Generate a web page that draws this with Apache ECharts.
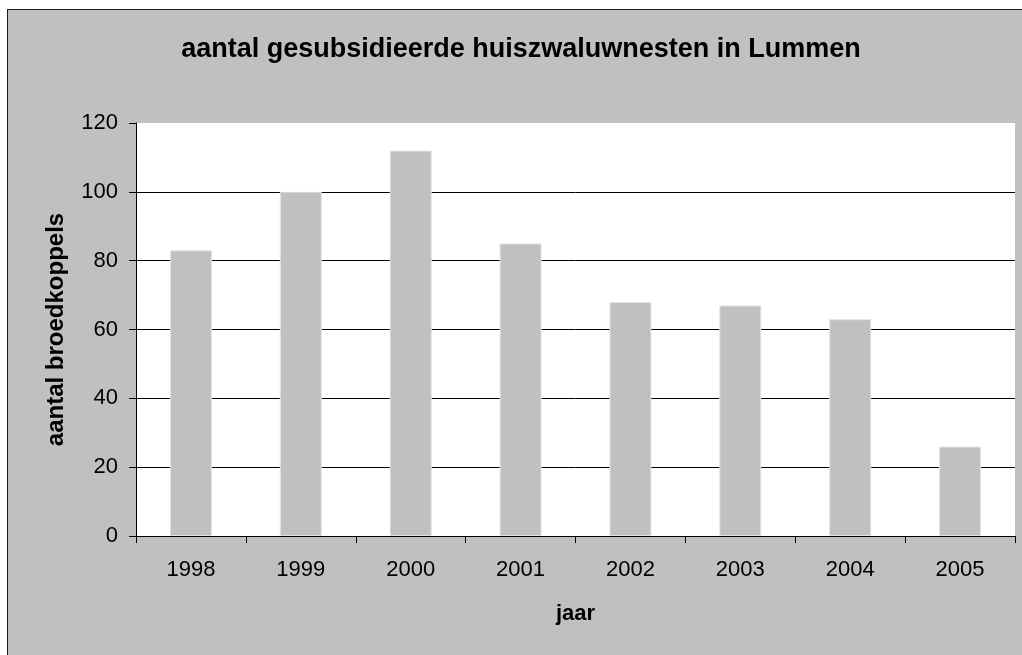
<!DOCTYPE html>
<html>
<head>
<meta charset="utf-8">
<script src="https://cdn.jsdelivr.net/npm/echarts@6/dist/echarts.min.js"></script>
<style>
    html, body { margin: 0; padding: 0; background: #fff; overflow: hidden; }
    #panel { position: absolute; left: 7px; top: 9px; width: 1040px; height: 670px;
             background: #c0c0c0; border: 1px solid #1a1a1a; }
    #chart { position: absolute; left: 0; top: 0; width: 1022px; height: 655px; }
</style>
</head>
<body>
<div id="panel"></div>
<div id="chart"></div>
<script type="text/javascript">
    // jaren en aantal broedkoppels
    var jaren = ['1998', '1999', '2000', '2001', '2002', '2003', '2004', '2005'];
    var broedkoppels = [83, 100, 112, 85, 68, 67, 63, 26];

    var FONT = '"Liberation Sans", Arial, sans-serif';

    var myChart = echarts.init(document.getElementById('chart'), null, { renderer: 'canvas' });

    var option = {
        backgroundColor: 'transparent',
        animation: false,
        title: {
            text: 'aantal gesubsidieerde huiszwaluwnesten in Lummen',
            left: 516,
            top: 31,
            textAlign: 'center',
            textStyle: { fontFamily: FONT, fontSize: 27, fontWeight: 'bold', color: '#000' }
        },
        grid: {
            left: 136, top: 123, right: 7, bottom: 119,
            show: true, backgroundColor: '#fff', borderWidth: 0
        },
        xAxis: {
            type: 'category',
            data: jaren,
            name: 'jaar',
            nameLocation: 'middle',
            nameGap: 67,
            nameTextStyle: { fontFamily: FONT, fontSize: 22, fontWeight: 'bold', color: '#000' },
            axisLine: { lineStyle: { color: '#000', width: 1 } },
            axisTick: { show: true, length: 7, lineStyle: { color: '#000' } },
            axisLabel: { margin: 23, fontFamily: FONT, fontSize: 22, color: '#000' }
        },
        yAxis: {
            type: 'value',
            min: 0, max: 120, interval: 20,
            name: 'aantal broedkoppels',
            nameLocation: 'middle',
            nameGap: 68,
            nameTextStyle: { fontFamily: FONT, fontSize: 24, fontWeight: 'bold', color: '#000' },
            axisLine: { show: true, lineStyle: { color: '#000', width: 1 } },
            axisTick: { show: true, length: 7, lineStyle: { color: '#000' } },
            axisLabel: { margin: 18, fontFamily: FONT, fontSize: 22, color: '#000' },
            splitLine: { show: true, showMaxLine: false, lineStyle: { color: '#000', width: 1 } }
        },
        series: [{
            type: 'bar',
            data: broedkoppels,
            barWidth: 42,
            itemStyle: { color: '#c0c0c0', borderColor: '#e4e4e4', borderWidth: 1 }
        }]
    };

    myChart.setOption(option);
</script>
</body>
</html>
